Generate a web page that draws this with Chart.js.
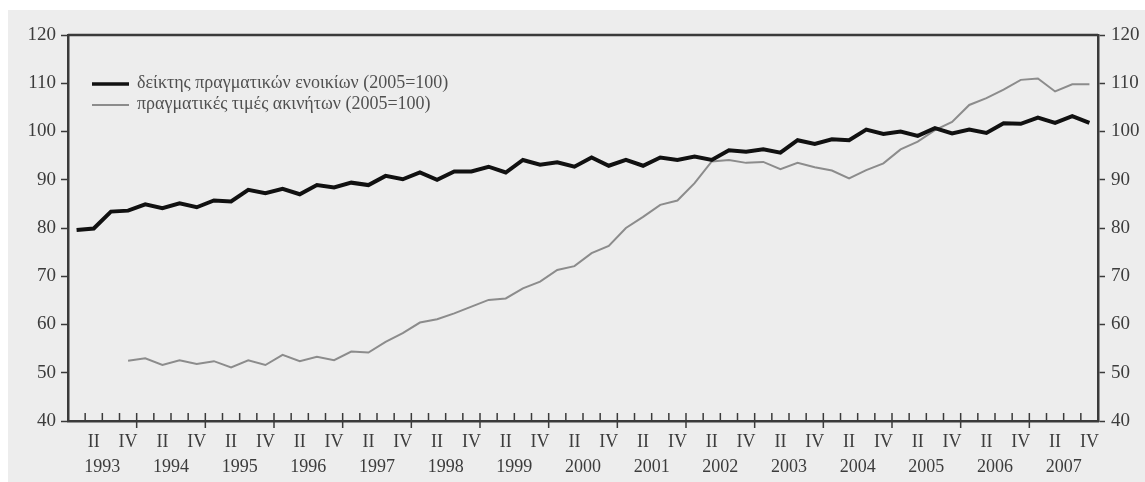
<!DOCTYPE html>
<html>
<head>
<meta charset="utf-8">
<script src="https://cdn.jsdelivr.net/npm/chart.js@4.4.0/dist/chart.umd.min.js"></script>
<style>
  html, body { margin: 0; padding: 0; background: #fff; }
  #wrap { width: 1145px; height: 482px; }
</style>
</head>
<body>
<div id="wrap"><canvas id="rentChart" width="1145" height="482"></canvas></div>
<script>
// years and quarter names for the category axis
const years = [1993, 1994, 1995, 1996, 1997, 1998, 1999, 2000, 2001, 2002, 2003, 2004, 2005, 2006, 2007];
const quarterNames = ['I', 'II', 'III', 'IV'];

// δείκτης πραγματικών ενοικίων (2005=100), quarterly 1993 I - 2007 IV
const rentIndex = [
    79.6, 79.9, 83.4, 83.6, 84.9, 84.1, 85.1, 84.3, 85.7, 85.5,
    87.9, 87.2, 88.1, 87.0, 88.9, 88.4, 89.4, 88.9, 90.8, 90.1,
    91.5, 90.0, 91.7, 91.7, 92.7, 91.5, 94.1, 93.1, 93.6, 92.7,
    94.6, 92.9, 94.1, 92.9, 94.6, 94.1, 94.8, 94.1, 96.1, 95.8,
    96.3, 95.6, 98.2, 97.4, 98.4, 98.2, 100.4, 99.5, 100.0, 99.1,
    100.7, 99.6, 100.4, 99.7, 101.7, 101.6, 102.9, 101.8, 103.2, 101.8
];

// πραγματικές τιμές ακινήτων (2005=100), starts 1993 IV
const housePrices = [
    null, null, null, 52.5, 53.0, 51.6, 52.6, 51.8, 52.4, 51.1,
    52.6, 51.6, 53.7, 52.4, 53.3, 52.6, 54.4, 54.2, 56.4, 58.2,
    60.4, 61.1, 62.3, 63.7, 65.1, 65.4, 67.5, 68.9, 71.3, 72.1,
    74.8, 76.3, 80.0, 82.3, 84.8, 85.7, 89.3, 93.8, 94.1, 93.5,
    93.7, 92.2, 93.5, 92.6, 91.9, 90.3, 92.0, 93.4, 96.3, 97.9,
    100.3, 102.0, 105.5, 106.9, 108.7, 110.7, 111.0, 108.3, 109.8, 109.8
];

const seriesNames = ['δείκτης πραγματικών ενοικίων (2005=100)', 'πραγματικές τιμές ακινήτων (2005=100)'];

const labels = [];
years.forEach(y => quarterNames.forEach(q => labels.push(q + ' ' + y)));

const SERIF = "'Liberation Serif', 'DejaVu Serif', serif";
const AXIS_COL = '#3a3a3a';
const TEXT_COL = '#3c3c3c';

// background: light grey panel with a thin white margin top and left
const bgPlugin = {
    id: 'bg',
    beforeDraw(chart) {
        const ctx = chart.ctx;
        ctx.save();
        ctx.fillStyle = '#ffffff';
        ctx.fillRect(0, 0, chart.width, chart.height);
        ctx.fillStyle = '#ededed';
        ctx.fillRect(8, 10, chart.width - 8, chart.height - 10);
        ctx.restore();
    }
};

// top frame line, quarter ticks and year labels
const framePlugin = {
    id: 'frame',
    afterDraw(chart) {
        const ctx = chart.ctx;
        const a = chart.chartArea;
        const x = chart.scales.x;
        ctx.save();
        ctx.strokeStyle = AXIS_COL;
        ctx.lineWidth = 2.5;
        ctx.beginPath();
        ctx.moveTo(a.left, a.top);
        ctx.lineTo(a.right, a.top);
        ctx.stroke();

        ctx.lineWidth = 1.5;
        for (let k = 1; k < labels.length; k++) {
            const px = (x.getPixelForValue(k - 1) + x.getPixelForValue(k)) / 2;
            ctx.beginPath();
            if (k % 4 === 0) {
                ctx.moveTo(px, a.bottom - 8);
                ctx.lineTo(px, a.bottom + 7);
            } else {
                ctx.moveTo(px, a.bottom - 8);
                ctx.lineTo(px, a.bottom);
            }
            ctx.stroke();
        }

        ctx.fillStyle = TEXT_COL;
        ctx.font = '18px ' + SERIF;
        ctx.textAlign = 'center';
        ctx.textBaseline = 'middle';
        years.forEach((yr, i) => {
            const px = (x.getPixelForValue(i * 4 + 1) + x.getPixelForValue(i * 4 + 2)) / 2;
            ctx.fillText(String(yr), px, a.bottom + 46);
        });
        ctx.restore();
    }
};

// legend drawn inside the plot, top-left
const legendPlugin = {
    id: 'innerLegend',
    afterDatasetsDraw(chart) {
        const ctx = chart.ctx;
        const a = chart.chartArea;
        ctx.save();
        ctx.font = '18px ' + SERIF;
        ctx.textBaseline = 'middle';
        chart.data.datasets.forEach((ds, i) => {
            const y = a.top + 49 + i * 21;
            ctx.strokeStyle = ds.borderColor;
            ctx.lineWidth = i === 0 ? 3.5 : 2;
            ctx.beginPath();
            ctx.moveTo(a.left + 24, y);
            ctx.lineTo(a.left + 61, y);
            ctx.stroke();
            ctx.fillStyle = '#505050';
            ctx.fillText(ds.label, a.left + 69, y - 1);
        });
        ctx.restore();
    }
};

function yAxis(position, width) {
    return {
        position: position,
        min: 40,
        max: 120,
        ticks: {
            stepSize: 10,
            color: TEXT_COL,
            font: { family: SERIF, size: 19 },
            padding: position === 'left' ? 5 : 6
        },
        grid: {
            drawOnChartArea: false,
            tickLength: 7,
            tickWidth: 1.5,
            color: AXIS_COL
        },
        border: { display: true, color: AXIS_COL, width: 2.5 },
        afterFit(scale) { scale.width = width; }
    };
}

const ctx = document.getElementById('rentChart').getContext('2d');
const chart = new Chart(ctx, {
    type: 'line',
    data: {
        labels: labels,
        datasets: [
            {
                label: seriesNames[0],
                data: rentIndex,
                borderColor: '#111111',
                borderWidth: 4,
                pointRadius: 0,
                tension: 0,
                yAxisID: 'y'
            },
            {
                label: seriesNames[1],
                data: housePrices,
                borderColor: '#8c8c8c',
                borderWidth: 2,
                pointRadius: 0,
                tension: 0,
                yAxisID: 'y'
            }
        ]
    },
    options: {
        responsive: false,
        animation: false,
        layout: { padding: { top: 35, left: 0, right: 0, bottom: 0 } },
        plugins: {
            legend: { display: false },
            tooltip: { enabled: false }
        },
        scales: {
            x: {
                type: 'category',
                offset: true,
                grid: { display: false, drawTicks: false },
                border: { display: true, color: AXIS_COL, width: 2.5 },
                ticks: {
                    autoSkip: false,
                    maxRotation: 0,
                    color: TEXT_COL,
                    font: { family: SERIF, size: 18 },
                    padding: 10,
                    callback: (v, i) => (i % 4 === 1 ? 'II' : (i % 4 === 3 ? 'IV' : ''))
                },
                afterFit(scale) { scale.height = 61; }
            },
            y: yAxis('left', 68),
            y2: yAxis('right', 47)
        }
    },
    plugins: [bgPlugin, framePlugin, legendPlugin]
});
</script>
</body>
</html>
